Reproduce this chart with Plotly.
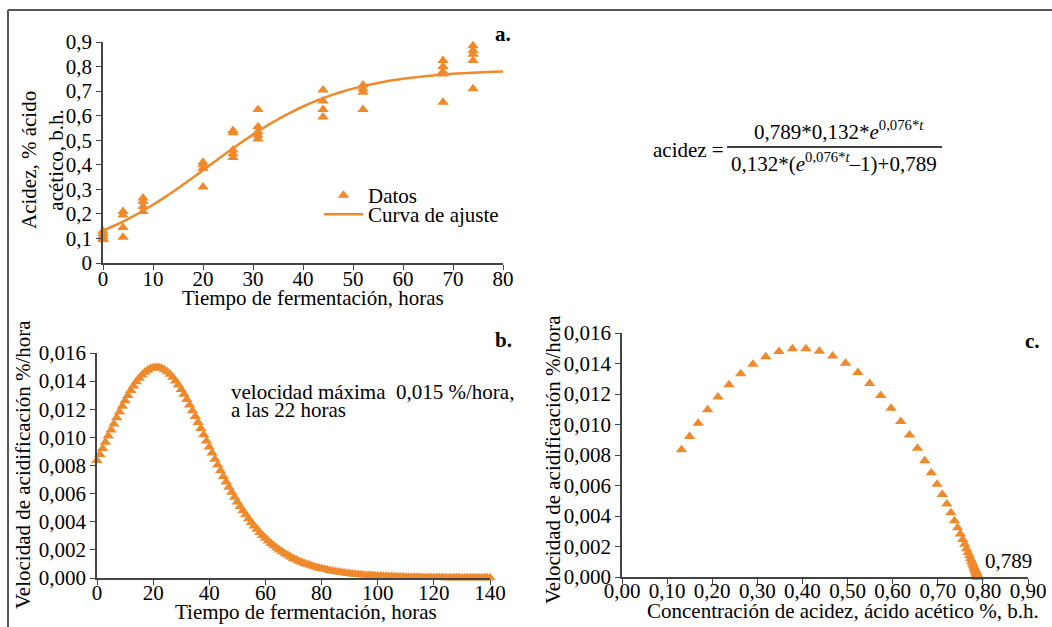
import plotly.graph_objects as go

W, H = 1052, 627
ORANGE = "#EE8A2C"
AXC = "#444444"
FONT = "Liberation Serif"
FS = 21

# ---------------- Panel a: measured data ----------------
t_datos = [0, 0, 0, 0, 0,
           4, 4, 4, 4,
           8, 8, 8, 8,
           20, 20, 20, 20,
           26, 26, 26, 26, 26,
           31, 31, 31, 31, 31,
           44, 44, 44, 44,
           52, 52, 52, 52,
           68, 68, 68, 68, 68,
           74, 74, 74, 74, 74]
acidez_datos = [0.13, 0.12, 0.11, 0.10, 0.095,
                0.21, 0.195, 0.145, 0.105,
                0.265, 0.25, 0.23, 0.21,
                0.41, 0.40, 0.385, 0.31,
                0.54, 0.53, 0.46, 0.445, 0.43,
                0.625, 0.555, 0.535, 0.52, 0.505,
                0.705, 0.66, 0.625, 0.595,
                0.725, 0.71, 0.695, 0.625,
                0.825, 0.80, 0.78, 0.77, 0.655,
                0.885, 0.865, 0.85, 0.825, 0.71]

# ---------------- fitted curve and rate, every 2 hours (panels a and c) ----------------
t_horas = [0, 2, 4, 6, 8, 10, 12, 14, 16, 18,
           20, 22, 24, 26, 28, 30, 32, 34, 36, 38,
           40, 42, 44, 46, 48, 50, 52, 54, 56, 58,
           60, 62, 64, 66, 68, 70, 72, 74, 76, 78,
           80, 82, 84, 86, 88, 90, 92, 94, 96, 98,
           100, 102, 104, 106, 108, 110, 112, 114, 116, 118,
           120, 122, 124, 126, 128, 130, 132, 134, 136, 138,
           140]
acidez_ajuste = [0.1320, 0.1496, 0.1689, 0.1899, 0.2127, 0.2371, 0.2631, 0.2903, 0.3187, 0.3480,
                 0.3778, 0.4077, 0.4376, 0.4669, 0.4954, 0.5228, 0.5490, 0.5736, 0.5965, 0.6178,
                 0.6373, 0.6550, 0.6711, 0.6856, 0.6985, 0.7100, 0.7201, 0.7291, 0.7370, 0.7439,
                 0.7500, 0.7552, 0.7598, 0.7638, 0.7673, 0.7702, 0.7728, 0.7751, 0.7770, 0.7787,
                 0.7801, 0.7814, 0.7824, 0.7834, 0.7841, 0.7848, 0.7854, 0.7859, 0.7864, 0.7867,
                 0.7870, 0.7873, 0.7876, 0.7878, 0.7879, 0.7881, 0.7882, 0.7883, 0.7884, 0.7885,
                 0.7886, 0.7886, 0.7887, 0.7887, 0.7888, 0.7888, 0.7888, 0.7889, 0.7889, 0.7889,
                 0.7889]
velocidad = [0.00835, 0.00921, 0.01009, 0.01096, 0.01181, 0.01261, 0.01333, 0.01395, 0.01444, 0.01478,
             0.01496, 0.01497, 0.01481, 0.01449, 0.01401, 0.01341, 0.01269, 0.01190, 0.01106, 0.01019,
             0.00931, 0.00845, 0.00762, 0.00683, 0.00609, 0.00541, 0.00478, 0.00421, 0.00369, 0.00323,
             0.00282, 0.00246, 0.00214, 0.00186, 0.00161, 0.00139, 0.00120, 0.00104, 0.00090, 0.00077,
             0.00067, 0.00058, 0.00050, 0.00043, 0.00037, 0.00032, 0.00027, 0.00023, 0.00020, 0.00017,
             0.00015, 0.00013, 0.00011, 0.00009, 0.00008, 0.00007, 0.00006, 0.00005, 0.00004, 0.00004,
             0.00003, 0.00003, 0.00002, 0.00002, 0.00002, 0.00002, 0.00001, 0.00001, 0.00001, 0.00001,
             0.00001]

# ---------------- rate, every hour (panel b) ----------------
t_cada_hora = [0, 1, 2, 3, 4, 5, 6, 7, 8, 9,
               10, 11, 12, 13, 14, 15, 16, 17, 18, 19,
               20, 21, 22, 23, 24, 25, 26, 27, 28, 29,
               30, 31, 32, 33, 34, 35, 36, 37, 38, 39,
               40, 41, 42, 43, 44, 45, 46, 47, 48, 49,
               50, 51, 52, 53, 54, 55, 56, 57, 58, 59,
               60, 61, 62, 63, 64, 65, 66, 67, 68, 69,
               70, 71, 72, 73, 74, 75, 76, 77, 78, 79,
               80, 81, 82, 83, 84, 85, 86, 87, 88, 89,
               90, 91, 92, 93, 94, 95, 96, 97, 98, 99,
               100, 101, 102, 103, 104, 105, 106, 107, 108, 109,
               110, 111, 112, 113, 114, 115, 116, 117, 118, 119,
               120, 121, 122, 123, 124, 125, 126, 127, 128, 129,
               130, 131, 132, 133, 134, 135, 136, 137, 138, 139,
               140]
velocidad_hora = [0.00835, 0.00878, 0.00921, 0.00965, 0.01009, 0.01052, 0.01096, 0.01139, 0.01181, 0.01221,
                  0.01261, 0.01298, 0.01333, 0.01365, 0.01395, 0.01421, 0.01444, 0.01463, 0.01478, 0.01489,
                  0.01496, 0.01499, 0.01497, 0.01492, 0.01481, 0.01467, 0.01449, 0.01427, 0.01401, 0.01372,
                  0.01341, 0.01306, 0.01269, 0.01231, 0.01190, 0.01149, 0.01106, 0.01063, 0.01019, 0.00975,
                  0.00931, 0.00888, 0.00845, 0.00803, 0.00762, 0.00722, 0.00683, 0.00646, 0.00609, 0.00574,
                  0.00541, 0.00509, 0.00478, 0.00449, 0.00421, 0.00394, 0.00369, 0.00346, 0.00323, 0.00302,
                  0.00282, 0.00263, 0.00246, 0.00229, 0.00214, 0.00199, 0.00186, 0.00173, 0.00161, 0.00150,
                  0.00139, 0.00129, 0.00120, 0.00112, 0.00104, 0.00097, 0.00090, 0.00083, 0.00077, 0.00072,
                  0.00067, 0.00062, 0.00058, 0.00053, 0.00050, 0.00046, 0.00043, 0.00040, 0.00037, 0.00034,
                  0.00032, 0.00029, 0.00027, 0.00025, 0.00023, 0.00022, 0.00020, 0.00019, 0.00017, 0.00016,
                  0.00015, 0.00014, 0.00013, 0.00012, 0.00011, 0.00010, 0.00009, 0.00009, 0.00008, 0.00008,
                  0.00007, 0.00006, 0.00006, 0.00006, 0.00005, 0.00005, 0.00004, 0.00004, 0.00004, 0.00004,
                  0.00003, 0.00003, 0.00003, 0.00003, 0.00002, 0.00002, 0.00002, 0.00002, 0.00002, 0.00002,
                  0.00002, 0.00001, 0.00001, 0.00001, 0.00001, 0.00001, 0.00001, 0.00001, 0.00001, 0.00001,
                  0.00001]

# fitted curve in panel a spans 0-80 h
n_a = t_horas.index(80) + 1

# tick labels
ya_vals = [0, 0.1, 0.2, 0.3, 0.4, 0.5, 0.6, 0.7, 0.8, 0.9]
ya_text = ["0", "0,1", "0,2", "0,3", "0,4", "0,5", "0,6", "0,7", "0,8", "0,9"]
xa_vals = [0, 10, 20, 30, 40, 50, 60, 70, 80]
xb_vals = [0, 20, 40, 60, 80, 100, 120, 140]
yv_vals = [0, 0.002, 0.004, 0.006, 0.008, 0.010, 0.012, 0.014, 0.016]
yv_text = ["0,000", "0,002", "0,004", "0,006", "0,008", "0,010", "0,012", "0,014", "0,016"]
xc_vals = [0, 0.1, 0.2, 0.3, 0.4, 0.5, 0.6, 0.7, 0.8, 0.9]
xc_text = ["0,00", "0,10", "0,20", "0,30", "0,40", "0,50", "0,60", "0,70", "0,80", "0,90"]


def px(x):
    return x / W


def py(y):
    return 1 - y / H


fig = go.Figure()
fig.add_trace(go.Scatter(x=t_datos, y=acidez_datos, mode="markers", name="Datos",
                         marker=dict(symbol="triangle-up", size=10, color=ORANGE),
                         xaxis="x", yaxis="y", cliponaxis=False, legend="legend"))
fig.add_trace(go.Scatter(x=t_horas[:n_a], y=acidez_ajuste[:n_a], mode="lines", name="Curva de ajuste",
                         line=dict(color=ORANGE, width=2.5, shape="spline"),
                         xaxis="x", yaxis="y", legend="legend2"))
fig.add_trace(go.Scatter(x=t_cada_hora, y=velocidad_hora, mode="markers", showlegend=False,
                         marker=dict(symbol="triangle-up", size=10, color=ORANGE),
                         xaxis="x2", yaxis="y2", cliponaxis=False))
fig.add_trace(go.Scatter(x=acidez_ajuste, y=velocidad, mode="markers", showlegend=False,
                         marker=dict(symbol="triangle-up", size=10, color=ORANGE),
                         xaxis="x3", yaxis="y3", cliponaxis=False))

axis_common = dict(showline=True, linecolor=AXC, linewidth=1.5, ticks="outside", ticklen=5,
                   tickwidth=1.2, tickcolor=AXC, showgrid=False, zeroline=False,
                   tickfont=dict(family=FONT, size=FS, color="black"), automargin=False,
                   fixedrange=True)

legend_common = dict(xanchor="left", yanchor="top", bgcolor="rgba(0,0,0,0)", itemwidth=39,
                     font=dict(family=FONT, size=FS, color="black"), tracegroupgap=0)

fig.update_layout(
    width=W, height=H,
    margin=dict(l=0, r=0, t=0, b=0),
    paper_bgcolor="white", plot_bgcolor="rgba(0,0,0,0)",
    font=dict(family=FONT, size=FS, color="black"),
    xaxis=dict(domain=[px(103), px(503)], range=[0, 80], anchor="y", tickvals=xa_vals,
               ticklabelstandoff=-9, **axis_common),
    yaxis=dict(domain=[py(263), py(42)], range=[0, 0.9], anchor="x", tickvals=ya_vals, ticktext=ya_text,
               **axis_common),
    xaxis2=dict(domain=[px(97), px(490)], range=[0, 140], anchor="y2", tickvals=xb_vals,
                ticklabelstandoff=-10, **axis_common),
    yaxis2=dict(domain=[py(578), py(353)], range=[0, 0.016], anchor="x2", tickvals=yv_vals,
                ticktext=yv_text, **axis_common),
    xaxis3=dict(domain=[px(622), px(1028)], range=[0, 0.9], anchor="y3", tickvals=xc_vals,
                ticktext=xc_text, ticklabelstandoff=-11, **axis_common),
    yaxis3=dict(domain=[py(577), py(333)], range=[0, 0.016], anchor="x3", tickvals=yv_vals,
                ticktext=yv_text, **axis_common),
    legend=dict(x=px(319), y=py(175), **legend_common),
    legend2=dict(x=px(319), y=py(194), **legend_common),
    showlegend=True,
)


def ann(text, x, y, size=FS, xanchor="center", angle=0, bold=False):
    fig.add_annotation(text=("<b>%s</b>" % text) if bold else text, x=px(x), y=py(y),
                       xref="paper", yref="paper", showarrow=False, xanchor=xanchor, yanchor="middle",
                       textangle=angle, font=dict(family=FONT, size=size, color="black"))


# axis titles
ann("Tiempo de fermentación, horas", 313, 298)
ann("Acidez, % ácido<br>acético, b.h.", 43, 160, angle=-90)
ann("Tiempo de fermentación, horas", 306, 612)
ann("Velocidad de acidificación %/hora", 23, 465, angle=-90)
ann("Concentración de acidez, ácido acético %, b.h.", 843, 611)
ann("Velocidad de acidificación %/hora", 553, 460, angle=-90)

# panel letters
ann("a.", 503, 34, bold=True)
ann("b.", 503, 340, bold=True)
ann("c.", 1032, 341, bold=True)

# notes
ann("velocidad máxima  0,015 %/hora,", 229, 392, xanchor="left")
ann("a las 22 horas", 229, 410, xanchor="left")
ann("0,789", 1008, 561)

# formula
ann("acidez =", 688, 150)
ann("0,789*0,132*<i>e</i><sup>0,076*<i>t</i></sup>", 839, 131)
ann("0,132*(<i>e</i><sup>0,076*<i>t</i></sup>–1)+0,789", 834, 162)

shapes = [
    dict(type="line", xref="paper", yref="paper", x0=px(727), x1=px(942), y0=py(147), y1=py(147),
         line=dict(color="black", width=1.3)),
    dict(type="line", xref="paper", yref="paper", x0=px(8), x1=1, y0=py(10), y1=py(10),
         line=dict(color="#555555", width=2)),
    dict(type="line", xref="paper", yref="paper", x0=px(8), x1=px(8), y0=py(10), y1=0,
         line=dict(color="#555555", width=2)),
]
fig.update_layout(shapes=shapes)

fig.write_html("out.html")
